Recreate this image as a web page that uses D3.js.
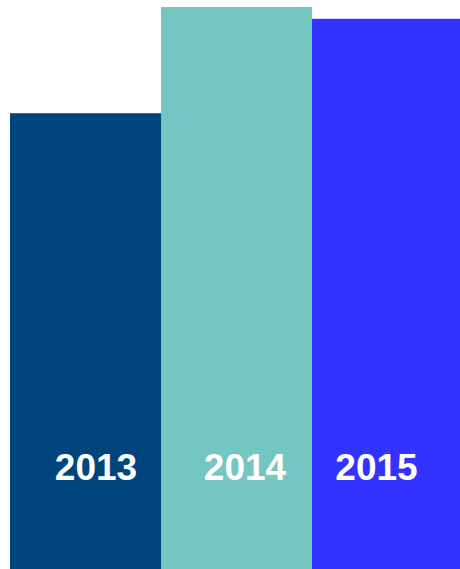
<!DOCTYPE html>
<html>
<head>
<meta charset="utf-8">
<script src="https://cdn.jsdelivr.net/npm/d3@7"></script>
<style>
  html, body { margin: 0; padding: 0; background: #fff; overflow: hidden; }
  .bar-label { font-family: "Liberation Sans", Arial, sans-serif; font-weight: bold; font-size: 37px; fill: #fff; }
</style>
</head>
<body>
<div id="chart"></div>
<script>
const years = ["2013", "2014", "2015"];
const values = [81.1, 100, 97.9];
const colors = ["#00457b", "#73c6c1", "#3333ff"];

function createBarChart() {
    const width = 460;
    const height = 569;

    const svg = d3.select("#chart")
        .append("svg")
        .attr("width", width)
        .attr("height", height);

    // the last bar runs off the right edge a little
    const x = d3.scaleBand()
        .domain(years)
        .range([10, 463])
        .padding(0);

    const y = d3.scaleLinear()
        .domain([0, 100])
        .range([height, 7]);

    const data = years.map((year, i) => ({ year, value: values[i], color: colors[i] }));

    svg.selectAll(".bar")
        .data(data)
        .enter().append("rect")
        .attr("class", "bar")
        .attr("x", d => x(d.year))
        .attr("y", d => y(d.value))
        .attr("width", x.bandwidth())
        .attr("height", d => height - y(d.value))
        .attr("fill", d => d.color);

    // labels sit a little off the bar centers in the original
    const labelShift = [10.5, 8.5, -11];

    svg.selectAll(".bar-label")
        .data(data)
        .enter().append("text")
        .attr("class", "bar-label")
        .attr("x", (d, i) => x(d.year) + x.bandwidth() / 2 + labelShift[i])
        .attr("y", 480)
        .attr("text-anchor", "middle")
        .text(d => d.year);
}

createBarChart();
</script>
</body>
</html>
